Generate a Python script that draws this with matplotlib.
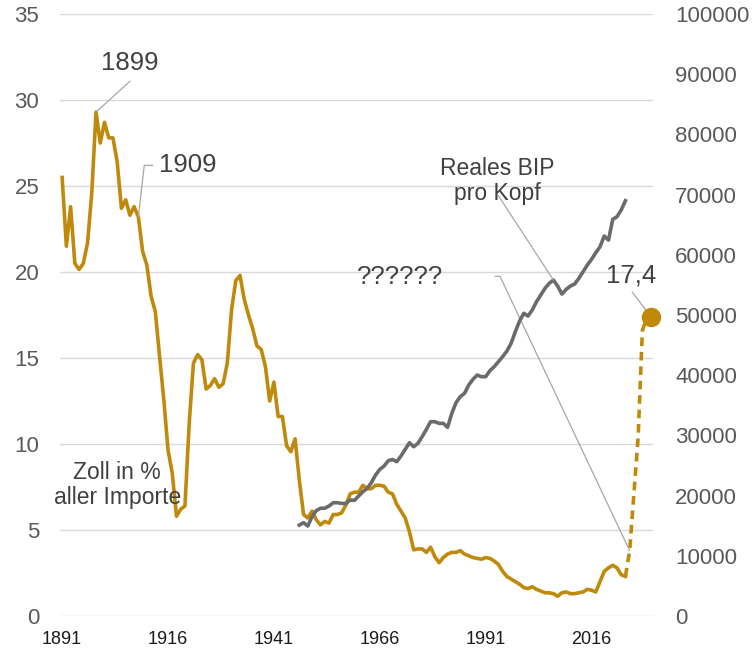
import numpy as np
import matplotlib.pyplot as plt

plt.rcParams['font.family'] = ['Liberation Sans', 'DejaVu Sans']

# Zoll in % aller Importe, 1891-2024
jahre = np.arange(1891, 2025)
zoll = [25.5, 21.5, 23.8, 20.5, 20.15, 20.5, 21.7, 24.6, 29.3, 27.5,
        28.7, 27.8, 27.8, 26.4, 23.7, 24.2, 23.3, 23.8, 23.2, 21.2,
        20.4, 18.6, 17.7, 15.1, 12.6, 9.65, 8.3, 5.8, 6.2, 6.4,
        11.2, 14.7, 15.2, 14.9, 13.2, 13.4, 13.8, 13.3, 13.5, 14.7,
        17.8, 19.5, 19.8, 18.4, 17.5, 16.7, 15.7, 15.5, 14.5, 12.5,
        13.6, 11.6, 11.6, 9.9, 9.55, 10.3, 7.9, 5.9, 5.7, 6.1,
        5.6, 5.3, 5.5, 5.4, 5.9, 5.9, 6.0, 6.45, 7.1, 7.2,
        7.2, 7.6, 7.4, 7.4, 7.6, 7.6, 7.55, 7.2, 7.1, 6.5,
        6.1, 5.7, 4.9, 3.85, 3.9, 3.9, 3.7, 4.0, 3.45, 3.1,
        3.4, 3.6, 3.7, 3.7, 3.8, 3.6, 3.5, 3.4, 3.35, 3.3,
        3.4, 3.35, 3.2, 3.0, 2.6, 2.3, 2.15, 2.0, 1.85, 1.65,
        1.6, 1.7, 1.55, 1.45, 1.35, 1.35, 1.3, 1.15, 1.35, 1.4,
        1.3, 1.3, 1.35, 1.4, 1.55, 1.5, 1.4, 2.0, 2.6, 2.8,
        2.95, 2.8, 2.4, 2.3]

# Ausblick (gestrichelt)
jahre_prog = np.arange(2024, 2031)
zoll_prog = [2.3, 3.8, 7.1, 10.4, 16.6, 17.3, 17.4]

# Reales BIP pro Kopf, 1947-2024
jahre_bip = np.arange(1947, 2025)
bip = [15100, 15500, 14950, 16500, 17500, 17900, 17900, 18270, 18820, 18820,
       18700, 18700, 19270, 19200, 19930, 20650, 21200, 22150, 23420, 24360,
       24900, 25800, 26000, 25640, 26580, 27690, 28790, 28120, 28680, 29790,
       31000, 32280, 32280, 32000, 32000, 31340, 33660, 35440, 36440, 36990,
       38370, 39320, 40030, 39750, 39750, 40750, 41410, 42240, 43070, 44000,
       45290, 47230, 49000, 50280, 49830, 50830, 52210, 53320, 54430, 55260,
       55810, 54810, 53480, 54260, 54810, 55140, 56090, 57190, 58300, 59250,
       60350, 61340, 63120, 62450, 65890, 66330, 67440, 68990]

x_ticks = [1891, 1916, 1941, 1966, 1991, 2016]

gold = '#BF8A0B'
grau = '#6B6B6B'
text_col = '#404040'
leader = dict(arrowstyle='-', color='#A6A6A6', lw=0.9, shrinkA=0, shrinkB=0)

fig, ax = plt.subplots(figsize=(7.54, 6.52), dpi=100)
fig.subplots_adjust(left=0.0796, right=0.866, bottom=0.0552, top=0.9785)
ax2 = ax.twinx()

ax.plot(jahre, zoll, color=gold, lw=2.6, solid_joinstyle='round', zorder=3)
ax.plot(jahre_prog, zoll_prog, color=gold, lw=2.6, ls=(0, (2.4, 1.6)), zorder=3)
ax.plot(jahre_prog[-1], zoll_prog[-1], 'o', color=gold, ms=13, zorder=4, clip_on=False)
ax2.plot(jahre_bip, bip, color=grau, lw=2.6, solid_joinstyle='round')

ax.set_xlim(1890.5, 2030.5)
ax.set_ylim(0, 35)
ax2.set_ylim(0, 100000)
ax.set_yticks(np.arange(0, 36, 5))
ax2.set_yticks(np.arange(0, 100001, 10000))
ax.set_xticks(x_ticks)

ax.yaxis.grid(True, color='#D9D9D9', lw=1.0)
ax.set_axisbelow(True)
for a in (ax, ax2):
    for s in a.spines.values():
        s.set_visible(False)
ax.tick_params(axis='y', length=0, pad=15, labelsize=16, labelcolor='#595959')
ax2.tick_params(axis='y', length=0, pad=16, labelsize=16, labelcolor='#595959')
ax.tick_params(axis='x', length=0, pad=11, labelsize=13, labelcolor='#1A1A1A')

# Beschriftungen
ax.text(1907.05, 32.15, '1899', fontsize=18.5, color=text_col, ha='center', va='center')
ax.annotate('', xy=(1899, zoll[8]), xytext=(1907.05, 31.1), arrowprops=leader)

ax.text(1913.9, 26.2, '1909', fontsize=18.5, color=text_col, ha='left', va='center')
ax.annotate('', xy=(1909, zoll[18]), xytext=(1912.4, 26.2),
            arrowprops=dict(leader, connectionstyle='angle,angleA=0,angleB=83.5,rad=0'))

ax.text(1904.0, 7.6, 'Zoll in %\naller Importe', fontsize=16.5, color=text_col,
        ha='center', va='center', linespacing=1.1, zorder=5)

ax2.text(1993.8, 72200, 'Reales BIP\npro Kopf', fontsize=16.5, color=text_col,
         ha='center', va='center', linespacing=1.1)
ax2.annotate('', xy=(2007, bip[60]), xytext=(1993.9, 69930), arrowprops=leader)

ax.text(1960.6, 19.7, '??????', fontsize=18.5, color=text_col, ha='left', va='center')
ax.annotate('', xy=(2025, zoll_prog[1]), xytext=(1993.2, 19.75),
            arrowprops=dict(leader, connectionstyle='angle,angleA=0,angleB=115.3,rad=0'))

ax.text(2025.3, 19.77, '17,4', fontsize=18.5, color=text_col, ha='center', va='center')
ax.annotate('', xy=(2030, zoll_prog[-1]), xytext=(2025.6, 18.84), arrowprops=leader)

fig.savefig('out.png', dpi=100)
